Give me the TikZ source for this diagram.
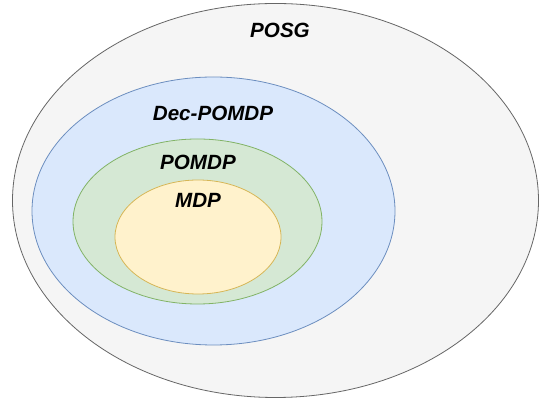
\documentclass[tikz,border=0pt]{standalone}
\usepackage{fontspec}
\setmainfont{Liberation Sans}
\usetikzlibrary{shapes.geometric}
\definecolor{gfill}{HTML}{F5F5F5}\definecolor{gline}{HTML}{666666}
\definecolor{bfill}{HTML}{DAE8FC}\definecolor{bline}{HTML}{6C8EBF}
\definecolor{nfill}{HTML}{D5E8D4}\definecolor{nline}{HTML}{82B366}
\definecolor{yfill}{HTML}{FFF2CC}\definecolor{yline}{HTML}{D6B656}
\tikzset{
  set/.style={ellipse, inner sep=0pt, line width=0.8pt},
  lbl/.style={font=\fontsize{20.6}{24}\selectfont\bfseries\itshape, inner sep=0pt}
}
\begin{document}
\begin{tikzpicture}[x=1pt,y=1pt]
\useasboundingbox (0,0) rectangle (539,401);
\node[set, draw=gline, fill=gfill, minimum width=526pt, minimum height=394pt] (posg) at (275.5,200.5) {};
\node[set, draw=bline, fill=bfill, minimum width=363pt, minimum height=268pt] (dec) at (213.5,190) {};
\node[set, draw=nline, fill=nfill, minimum width=249pt, minimum height=165pt] (pomdp) at (197.5,179.5) {};
\node[set, draw=yline, fill=yfill, minimum width=166pt, minimum height=114pt] (mdp) at (198,164) {};
\node[lbl] (tposg) at (280,371) {POSG};
\node[lbl] (tdec) at (213,288) {Dec-POMDP};
\node[lbl] (tpomdp) at (198,239) {POMDP};
\node[lbl] (tmdp) at (198,201) {MDP};
\end{tikzpicture}
\end{document}
